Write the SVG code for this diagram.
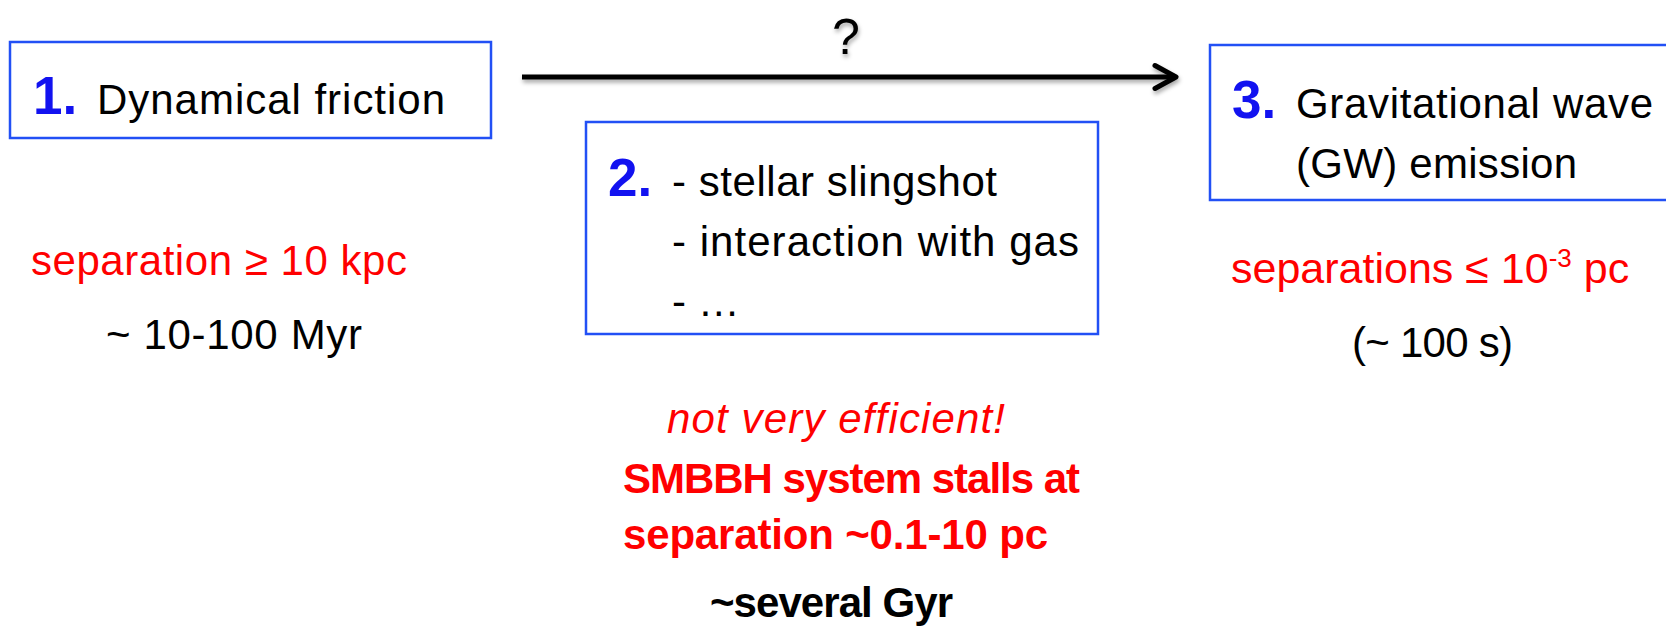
<svg xmlns="http://www.w3.org/2000/svg" width="1666" height="631" viewBox="0 0 1666 631">
  <style>
    .box { fill: #ffffff; stroke: #2250f5; stroke-width: 2.5; }
    .t { font-family: "Liberation Sans", Arial, sans-serif; font-size: 42px; fill: #000000; }
    .num { font-family: "Liberation Sans", Arial, sans-serif; font-size: 53px; font-weight: bold; fill: #1212f0; }
    .red { fill: #ff0000; }
    .b { font-weight: bold; }
    .i { font-style: italic; }
    .conn { fill: none; stroke: #000000; stroke-width: 5; }
  </style>
  <defs>
    <filter id="shadow" x="-5%" y="-100%" width="110%" height="300%">
      <feDropShadow dx="1" dy="3" stdDeviation="2" flood-color="#000000" flood-opacity="0.35"/>
    </filter>
    <marker id="chevron" markerUnits="userSpaceOnUse" markerWidth="40" markerHeight="40" refX="26" refY="20" orient="auto" overflow="visible">
      <path d="M 5 8.5 L 26 20 L 5 31.5" fill="none" stroke="#000000" stroke-width="5" stroke-linecap="round" stroke-linejoin="round"/>
    </marker>
  </defs>

  <rect width="1666" height="631" fill="#ffffff"/>

  <!-- connectors -->
  <g id="connectors" filter="url(#shadow)">
    <line class="conn" x1="522" y1="77" x2="1176" y2="77" marker-end="url(#chevron)"/>
    <text class="t" x="846" y="54" text-anchor="middle" style="font-size:50px">?</text>
  </g>

  <!-- stage 1 -->
  <g id="node-1">
    <rect class="box" x="10" y="42" width="481" height="96"/>
    <text class="num" x="33" y="114">1.</text>
    <text class="t" x="97" y="114" textLength="348">Dynamical friction</text>
  </g>

  <!-- stage 2 -->
  <g id="node-2">
    <rect class="box" x="586" y="122" width="512" height="212"/>
    <text class="num" x="608" y="196">2.</text>
    <text class="t" x="672" y="196" textLength="325">- stellar slingshot</text>
    <text class="t" x="672" y="256" textLength="407">- interaction with gas</text>
    <text class="t" x="672" y="316">- …</text>
  </g>

  <!-- stage 3 -->
  <g id="node-3">
    <rect class="box" x="1210" y="45" width="480" height="155"/>
    <text class="num" x="1232" y="118">3.</text>
    <text class="t" x="1296" y="118" textLength="357">Gravitational wave</text>
    <text class="t" x="1296" y="178" textLength="281">(GW) emission</text>
  </g>

  <!-- annotations under stage 1 -->
  <g id="notes-1">
    <text class="t red" x="31" y="275" textLength="376">separation ≥ 10 kpc</text>
    <text class="t" x="106" y="349" textLength="256">~ 10-100 Myr</text>
  </g>

  <!-- annotations under stage 2 -->
  <g id="notes-2">
    <text class="t red i" x="667" y="433" textLength="338">not very efficient!</text>
    <text class="t red b" x="623" y="493" textLength="457">SMBBH system stalls at</text>
    <text class="t red b" x="623" y="549" textLength="425">separation ~0.1-10 pc</text>
    <text class="t b" x="710" y="617" textLength="243">~several Gyr</text>
  </g>

  <!-- annotations under stage 3 -->
  <g id="notes-3">
    <text class="t red" x="1231" y="283" style="font-size:43px">separations ≤ 10<tspan dy="-16" style="font-size:26px">-3</tspan><tspan dy="16"> pc</tspan></text>
    <text class="t" x="1352" y="357" textLength="161">(~ 100 s)</text>
  </g>
</svg>
